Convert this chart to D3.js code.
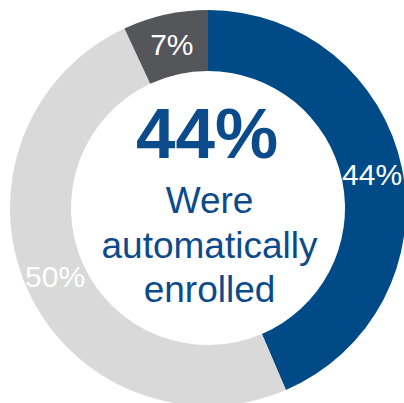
<!DOCTYPE html>
<html>
<head>
<meta charset="utf-8">
<script src="https://cdn.jsdelivr.net/npm/d3@7"></script>
<style>
  html, body { margin: 0; padding: 0; background: #fff; }
  svg { display: block; }
</style>
</head>
<body>
<svg id="chart" width="404" height="403"></svg>
<script>
// Enrollment share, drawn clockwise from 12 o'clock
const categories = ["Automatically enrolled", "Other", "Unknown"];
const values = [44, 50, 7];
const labels = ["44%", "50%", "7%"];
const colors = ["#004a87", "#d9d9d9", "#54565a"];

const headline = "44%";
const captionLines = ["Were", "automatically", "enrolled"];

const width = 404, height = 403;
const cx = 208, cy = 208;
const outerR = 198, innerR = 137;

const svg = d3.select("#chart");
const g = svg.append("g").attr("transform", `translate(${cx},${cy})`);

const pie = d3.pie().sort(null).value(d => d.value);
const arc = d3.arc().innerRadius(innerR).outerRadius(outerR);

const data = categories.map((c, i) => ({ name: c, value: values[i], label: labels[i], color: colors[i] }));
const arcs = pie(data);

g.selectAll("path.slice")
  .data(arcs)
  .join("path")
  .attr("class", "slice")
  .attr("d", arc)
  .attr("fill", d => d.data.color);

g.selectAll("text.slice-label")
  .data(arcs)
  .join("text")
  .attr("class", "slice-label")
  .attr("transform", d => `translate(${arc.centroid(d)})`)
  .attr("text-anchor", "middle")
  .attr("dy", "0.36em")
  .attr("font-family", "Liberation Sans, Arial, sans-serif")
  .attr("font-size", 30)
  .attr("fill", "#ffffff")
  .text(d => d.data.label);

// Centre headline and caption
g.append("text")
  .attr("x", -1)
  .attr("y", -50)
  .attr("text-anchor", "middle")
  .attr("font-family", "Liberation Sans, Arial, sans-serif")
  .attr("font-weight", "bold")
  .attr("font-size", 71)
  .attr("fill", "#0b4a8b")
  .text(headline);

g.selectAll("text.caption")
  .data(captionLines)
  .join("text")
  .attr("class", "caption")
  .attr("x", 1.5)
  .attr("y", (d, i) => 5 + i * 44.5)
  .attr("text-anchor", "middle")
  .attr("font-family", "Liberation Sans, Arial, sans-serif")
  .attr("font-size", 37)
  .attr("fill", "#0b4a8b")
  .text(d => d);
</script>
</body>
</html>
